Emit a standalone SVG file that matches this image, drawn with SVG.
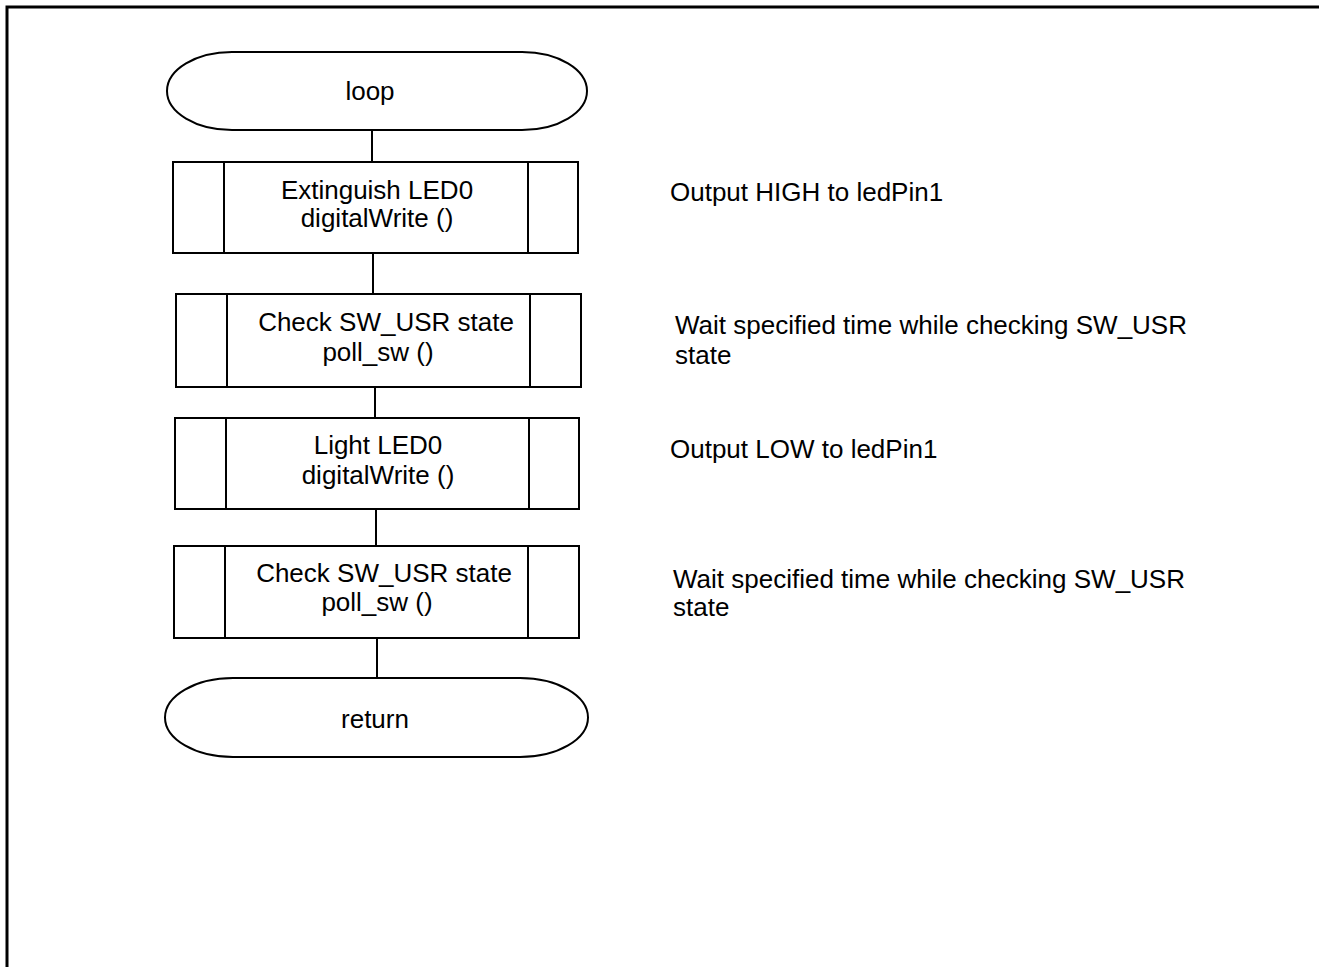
<svg xmlns="http://www.w3.org/2000/svg" width="1319" height="967" viewBox="0 0 1319 967">
  <style>
    .shape { fill: #ffffff; stroke: #000000; stroke-width: 2; }
    .div { stroke: #000000; stroke-width: 2; }
    .wire { stroke: #000000; stroke-width: 2; fill: none; }
    .frame { stroke: #000000; stroke-width: 3; fill: none; }
    text { font-family: "Liberation Sans", Arial, sans-serif; font-size: 26px; fill: #000000; }
    .c { text-anchor: middle; }
  </style>
  <rect width="1319" height="967" fill="#ffffff"/>
  <!-- page frame -->
  <path class="frame" d="M7,967 V7 H1319"/>

  <!-- connectors -->
  <g id="connectors">
    <line class="wire" x1="372" y1="130" x2="372" y2="162"/>
    <line class="wire" x1="373" y1="253" x2="373" y2="294"/>
    <line class="wire" x1="375" y1="387" x2="375" y2="418"/>
    <line class="wire" x1="376" y1="509" x2="376" y2="546"/>
    <line class="wire" x1="377" y1="638" x2="377" y2="678"/>
  </g>

  <g id="start">
    <rect class="shape" x="167" y="52" width="420" height="78" rx="65" ry="39"/>
    <text class="c" x="370" y="100">loop</text>
  </g>

  <g id="extinguish">
    <rect class="shape" x="173" y="162" width="405" height="91"/>
    <line class="div" x1="224" y1="162" x2="224" y2="253"/>
    <line class="div" x1="528" y1="162" x2="528" y2="253"/>
    <text class="c" x="377" y="199">Extinguish LED0</text>
    <text class="c" x="377" y="227">digitalWrite ()</text>
  </g>

  <g id="check1">
    <rect class="shape" x="176" y="294" width="405" height="93"/>
    <line class="div" x1="227" y1="294" x2="227" y2="387"/>
    <line class="div" x1="530" y1="294" x2="530" y2="387"/>
    <text class="c" x="386" y="331">Check SW_USR state</text>
    <text class="c" x="378" y="361">poll_sw ()</text>
  </g>

  <g id="light">
    <rect class="shape" x="175" y="418" width="404" height="91"/>
    <line class="div" x1="226" y1="418" x2="226" y2="509"/>
    <line class="div" x1="529" y1="418" x2="529" y2="509"/>
    <text class="c" x="378" y="454">Light LED0</text>
    <text class="c" x="378" y="484">digitalWrite ()</text>
  </g>

  <g id="check2">
    <rect class="shape" x="174" y="546" width="405" height="92"/>
    <line class="div" x1="225" y1="546" x2="225" y2="638"/>
    <line class="div" x1="528" y1="546" x2="528" y2="638"/>
    <text class="c" x="384" y="582">Check SW_USR state</text>
    <text class="c" x="377" y="611">poll_sw ()</text>
  </g>

  <g id="end">
    <rect class="shape" x="165" y="678" width="423" height="79" rx="68" ry="39.5"/>
    <text class="c" x="375" y="728">return</text>
  </g>

  <!-- side notes -->
  <g id="notes">
    <text x="670" y="201">Output HIGH to ledPin1</text>
    <text x="675" y="334">Wait specified time while checking SW_USR</text>
    <text x="675" y="364">state</text>
    <text x="670" y="458">Output LOW to ledPin1</text>
    <text x="673" y="588">Wait specified time while checking SW_USR</text>
    <text x="673" y="616">state</text>
  </g>
</svg>
